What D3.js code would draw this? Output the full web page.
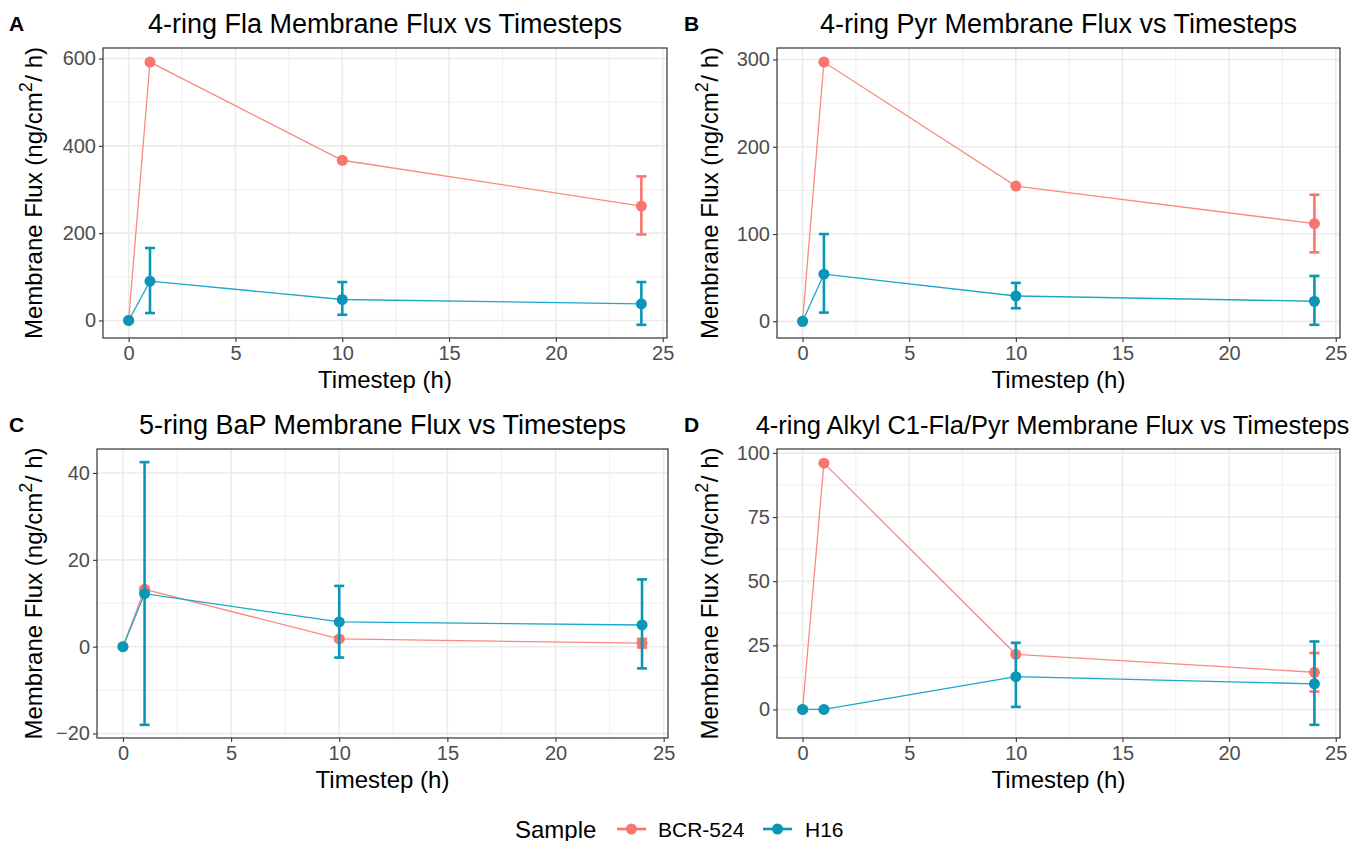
<!DOCTYPE html>
<html><head><meta charset="utf-8">
<script src="https://cdn.jsdelivr.net/npm/d3@7"></script>
<style>body{margin:0;background:#fff}svg{display:block;font-family:"Liberation Sans",Arial,sans-serif}</style>
</head><body>
<svg id="c" width="1356" height="841"></svg>
<script>
// ---- data ----
const timesteps = [0, 1, 10, 24];
const samples = ["BCR-524", "H16"];
const colors = {"BCR-524": "#F8766D", "H16": "#0A96B6"};
const lineColors = {"BCR-524": "#FA8A80", "H16": "#1AA8CA"};

const panelLetters = ["A", "B", "C", "D"];
const panelTitles = [
  "4-ring Fla Membrane Flux vs Timesteps",
  "4-ring Pyr Membrane Flux vs Timesteps",
  "5-ring BaP Membrane Flux vs Timesteps",
  "4-ring Alkyl C1-Fla/Pyr Membrane Flux vs Timesteps"
];
const flaBCR = [0, 592, 367, 262];
const flaBCRlo = [0, 590, 363, 197];
const flaBCRhi = [0, 594, 371, 330];
const flaH16 = [0, 90, 48, 38];
const flaH16lo = [0, 17, 13, -10];
const flaH16hi = [0, 166, 88, 88];

const pyrBCR = [0, 297, 155, 112];
const pyrBCRlo = [0, 296, 154, 79];
const pyrBCRhi = [0, 298, 156, 145];
const pyrH16 = [0, 54, 29, 23];
const pyrH16lo = [0, 10, 15, -4];
const pyrH16hi = [0, 100, 44, 52];

const bapBCR = [0, 13.2, 1.8, 0.8];
const bapBCRlo = [0, 12.8, 1.4, -0.2];
const bapBCRhi = [0, 13.6, 2.2, 1.8];
const bapH16 = [0, 12.2, 5.7, 5.0];
const bapH16lo = [0, -18, -2.5, -5];
const bapH16hi = [0, 42.5, 14, 15.5];

const alkBCR = [0, 96, 21.5, 14.5];
const alkBCRlo = [0, 95.6, 21, 7];
const alkBCRhi = [0, 96.4, 22, 22];
const alkH16 = [0, 0, 12.8, 10];
const alkH16lo = [0, 0, 1, -6];
const alkH16hi = [0, 0, 26, 26.5];

const xTicks = [0, 5, 10, 15, 20, 25];
const yTicksA = [0, 200, 400, 600];
const yTicksB = [0, 100, 200, 300];
const yTicksC = [-20, 0, 20, 40];
const yTicksD = [0, 25, 50, 75, 100];

const xTitle = "Timestep (h)";
const legendTitle = "Sample";

// ---- layout ----
const boxes = [
  {x0: 103, x1: 667, y0: 48, y1: 338},
  {x0: 777, x1: 1340, y0: 48, y1: 338},
  {x0: 97, x1: 668, y0: 449, y1: 738},
  {x0: 777, x1: 1340, y0: 449, y1: 738}
];
const titleSizes = [27, 27, 27, 25.5];
const titleShift = [0, 0, 0, -6];
const panelData = [
  {bcr: [flaBCR, flaBCRlo, flaBCRhi], h16: [flaH16, flaH16lo, flaH16hi], ticks: yTicksA},
  {bcr: [pyrBCR, pyrBCRlo, pyrBCRhi], h16: [pyrH16, pyrH16lo, pyrH16hi], ticks: yTicksB},
  {bcr: [bapBCR, bapBCRlo, bapBCRhi], h16: [bapH16, bapH16lo, bapH16hi], ticks: yTicksC},
  {bcr: [alkBCR, alkBCRlo, alkBCRhi], h16: [alkH16, alkH16lo, alkH16hi], ticks: yTicksD}
];

const svg = d3.select("#c");
const gridCol = "#EBEBEB";

function expand(lo, hi) { const r = hi - lo; return [lo - r * 0.05, hi + r * 0.05]; }

panelData.forEach((pd, i) => {
  const b = boxes[i];
  const series = [
    {name: "BCR-524", v: pd.bcr},
    {name: "H16", v: pd.h16}
  ];
  const all = [];
  series.forEach(s => { s.v.forEach(a => a.forEach(d => all.push(d))); });
  const yd = expand(d3.min(all), d3.max(all));
  const xd = expand(d3.min(timesteps), d3.max(timesteps));
  const x = d3.scaleLinear().domain(xd).range([b.x0, b.x1]);
  const y = d3.scaleLinear().domain(yd).range([b.y1, b.y0]);
  const g = svg.append("g");

  const xMinor = xTicks.slice(0, -1).map((t, k) => (t + xTicks[k + 1]) / 2).filter(t => t >= xd[0] && t <= xd[1]);
  const yt = pd.ticks;
  const step = yt[1] - yt[0];
  const yMinorAll = [yt[0] - step / 2].concat(yt.map(t => t + step / 2));
  const yMinor = yMinorAll.filter(t => t >= yd[0] && t <= yd[1]);
  g.selectAll(".xm").data(xMinor).join("line").attr("x1", d => x(d)).attr("x2", d => x(d))
    .attr("y1", b.y0).attr("y2", b.y1).attr("stroke", gridCol).attr("stroke-width", 0.8);
  g.selectAll(".ym").data(yMinor).join("line").attr("y1", d => y(d)).attr("y2", d => y(d))
    .attr("x1", b.x0).attr("x2", b.x1).attr("stroke", gridCol).attr("stroke-width", 0.8);
  g.selectAll(".xM").data(xTicks.filter(t => t >= xd[0] && t <= xd[1])).join("line").attr("x1", d => x(d)).attr("x2", d => x(d))
    .attr("y1", b.y0).attr("y2", b.y1).attr("stroke", gridCol).attr("stroke-width", 1.6);
  g.selectAll(".yM").data(yt).join("line").attr("y1", d => y(d)).attr("y2", d => y(d))
    .attr("x1", b.x0).attr("x2", b.x1).attr("stroke", gridCol).attr("stroke-width", 1.6);

  const xa = g.append("g").attr("transform", `translate(0,${b.y1})`)
    .call(d3.axisBottom(x).tickValues(xTicks).tickSize(4).tickPadding(4).tickFormat(d3.format("d")));
  const ya = g.append("g").attr("transform", `translate(${b.x0},0)`)
    .call(d3.axisLeft(y).tickValues(yt).tickSize(4).tickPadding(3).tickFormat(d3.format("d")));
  [xa, ya].forEach(a => {
    a.select(".domain").remove();
    a.selectAll(".tick line").attr("stroke", "#333333").attr("stroke-width", 1.1);
    a.selectAll(".tick text").attr("fill", "#4D4D4D").style("font-size", "20px")
      .style("font-family", "'Liberation Sans', Arial, sans-serif");
  });

  const clip = "clip" + i;
  svg.append("clipPath").attr("id", clip).append("rect")
    .attr("x", b.x0).attr("y", b.y0).attr("width", b.x1 - b.x0).attr("height", b.y1 - b.y0);
  const pg = g.append("g").attr("clip-path", `url(#${clip})`);
  series.forEach(s => {
    const [mean, lo, hi] = s.v;
    const pts = timesteps.map((t, k) => ({t, m: mean[k], lo: lo[k], hi: hi[k]}));
    pg.append("path").datum(pts)
      .attr("d", d3.line().x(d => x(d.t)).y(d => y(d.m)))
      .attr("fill", "none").attr("stroke", lineColors[s.name]).attr("stroke-width", 1.3);
    const eb = pg.append("g").attr("stroke", colors[s.name]).attr("stroke-width", 2.6);
    pts.filter(d => d.hi - d.lo > 0).forEach(d => {
      eb.append("line").attr("x1", x(d.t)).attr("x2", x(d.t)).attr("y1", y(d.lo)).attr("y2", y(d.hi));
      eb.append("line").attr("x1", x(d.t) - 5).attr("x2", x(d.t) + 5).attr("y1", y(d.lo)).attr("y2", y(d.lo));
      eb.append("line").attr("x1", x(d.t) - 5).attr("x2", x(d.t) + 5).attr("y1", y(d.hi)).attr("y2", y(d.hi));
    });
    pg.selectAll(null).data(pts).join("circle")
      .attr("cx", d => x(d.t)).attr("cy", d => y(d.m)).attr("r", 5.5).attr("fill", colors[s.name]);
  });

  g.append("rect").attr("x", b.x0).attr("y", b.y0).attr("width", b.x1 - b.x0).attr("height", b.y1 - b.y0)
    .attr("fill", "none").attr("stroke", "#333333").attr("stroke-width", 1.2);

  const cx = (b.x0 + b.x1) / 2;
  g.append("text").attr("x", cx + titleShift[i]).attr("y", b.y0 - 15).attr("text-anchor", "middle")
    .style("font-size", titleSizes[i] + "px").attr("fill", "#000").text(panelTitles[i]);
  g.append("text").attr("x", i % 2 === 0 ? 9 : 684).attr("y", b.y0 - 17)
    .style("font-size", "21px").style("font-weight", "bold").attr("fill", "#000").text(panelLetters[i]);
  g.append("text").attr("x", cx).attr("y", b.y1 + 50).attr("text-anchor", "middle")
    .style("font-size", "24px").attr("fill", "#000").text(xTitle);
  const ylx = i % 2 === 0 ? 42 : 718;
  const yl = g.append("text").attr("transform", `translate(${ylx},${(b.y0 + b.y1) / 2}) rotate(-90)`)
    .attr("text-anchor", "middle").style("font-size", "24px").attr("fill", "#000");
  yl.append("tspan").text("Membrane Flux (ng/cm");
  yl.append("tspan").attr("dy", -10).style("font-size", "18px").text("2");
  yl.append("tspan").attr("dy", 10).attr("dx", -6).text(" / h)");
});

const lg = svg.append("g").attr("transform", "translate(0,829)");
lg.append("text").attr("x", 515).attr("y", 8.5).style("font-size", "24px").attr("fill", "#000").text(legendTitle);
const keyX = [617, 763];
const labX = [658, 805];
samples.forEach((s, k) => {
  lg.append("line").attr("x1", keyX[k]).attr("x2", keyX[k] + 29).attr("y1", 0).attr("y2", 0)
    .attr("stroke", colors[s]).attr("stroke-width", 2.6);
  lg.append("circle").attr("cx", keyX[k] + 14.5).attr("cy", 0).attr("r", 5.5).attr("fill", colors[s]);
  lg.append("text").attr("x", labX[k]).attr("y", 7.5).style("font-size", "21px").attr("fill", "#000").text(s);
});
</script>
</body></html>
